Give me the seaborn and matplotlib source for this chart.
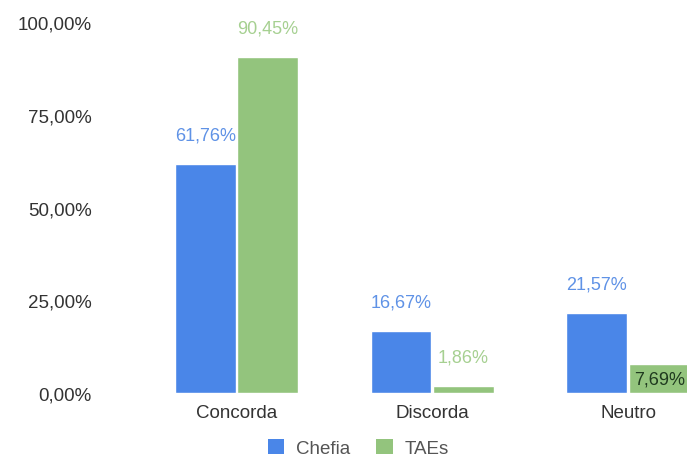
import matplotlib
matplotlib.use("Agg")
import matplotlib.pyplot as plt
import seaborn as sns
import pandas as pd
from matplotlib.patches import Patch

categories = ["Concorda", "Discorda", "Neutro"]
series_names = ["Chefia", "TAEs"]
chefia = [61.76, 16.67, 21.57]
taes = [90.45, 1.86, 7.69]
y_ticks = [0, 25, 50, 75, 100]
y_tick_labels = ["0,00%", "25,00%", "50,00%", "75,00%", "100,00%"]

bar_colors = {"Chefia": "#4a86e8", "TAEs": "#93c47d"}
label_colors = {"Chefia": "#5f92e6", "TAEs": "#a6d091"}

df = pd.DataFrame({
    "Categoria": categories * 2,
    "Serie": ["Chefia"] * 3 + ["TAEs"] * 3,
    "Valor": chefia + taes,
})

sns.set_style("white")
plt.rcParams["font.family"] = ["Liberation Sans", "DejaVu Sans"]

W, H = 687, 460
fig = plt.figure(figsize=(W / 100, H / 100), dpi=100)
ax = fig.add_axes([103 / W, 1 - 394 / H, (687 - 103) / W, (394 - 23) / H])

sns.barplot(data=df, x="Categoria", y="Valor", hue="Serie", order=categories,
            hue_order=series_names, palette=bar_colors, width=0.64, gap=0.03,
            legend=False, ax=ax, saturation=1)

ax.set_xlim(-0.682, 2.301)
ax.set_ylim(0, 101.5)
ax.set_yticks(y_ticks)
ax.set_yticklabels(y_tick_labels)
ax.set_xlabel("")
ax.set_ylabel("")
for s in ax.spines.values():
    s.set_visible(False)
ax.tick_params(axis="both", length=0, labelsize=13.5, colors="#333333")
ax.tick_params(axis="y", pad=8)
ax.tick_params(axis="x", pad=8)
ax.grid(False)
# align 100% tick with top position
ax.set_position([103 / W, 1 - 394 / H, (687 - 103) / W, (394 - 23) / H * 1.015])

for cont, name in zip(ax.containers, series_names):
    vals = chefia if name == "Chefia" else taes
    for bar, v in zip(cont, vals):
        txt = f"{v:.2f}".replace(".", ",") + "%"
        cx = bar.get_x() + bar.get_width() / 2
        if name == "TAEs" and abs(v - 7.69) < 1e-6:
            ax.annotate(txt, (cx, v / 2), ha="center", va="center",
                        fontsize=13, color="#1f3a1f", annotation_clip=False)
        else:
            ax.annotate(txt, (cx, v), xytext=(0, 21.0), textcoords="offset points",
                        ha="center", va="center", fontsize=13,
                        color=label_colors[name], annotation_clip=False)

handles = [Patch(facecolor=bar_colors[n], edgecolor="none", label=n) for n in series_names]
leg = fig.legend(handles=handles, loc="center", bbox_to_anchor=(358 / W, 1 - 449 / H),
                 ncol=2, frameon=False, fontsize=13.5, handlelength=0.9, handleheight=0.9,
                 handletextpad=0.6, columnspacing=1.4)
for t in leg.get_texts():
    t.set_color("#555555")

fig.savefig("out.png", dpi=100)
